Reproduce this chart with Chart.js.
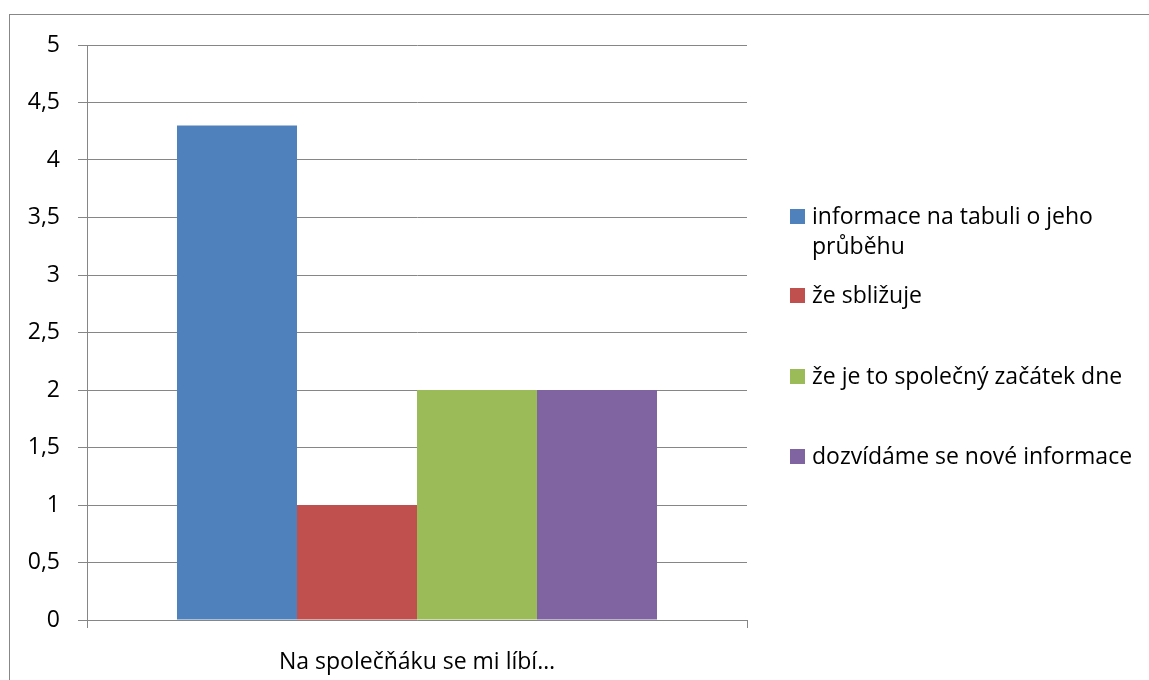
<!DOCTYPE html>
<html>
<head>
<meta charset="utf-8">
<script src="https://cdn.jsdelivr.net/npm/chart.js@4"></script>
<style>
  html, body { margin: 0; padding: 0; background: #fff; }
  #wrap { width: 1149px; height: 680px; position: relative; }
</style>
</head>
<body>
<div id="wrap"><canvas id="chart" width="1149" height="680"></canvas></div>
<script>
const categories = ['Na společňáku se mi líbí…'];
const seriesNames = [
  'informace na tabuli o jeho průběhu',
  'že sbližuje',
  'že je to společný začátek dne',
  'dozvídáme se nové informace'
];
const seriesValues = [[4.3], [1], [2], [2]];
const seriesColors = ['#4F81BD', '#C0504D', '#9BBB59', '#8064A2'];
const yTicks = [0, 0.5, 1, 1.5, 2, 2.5, 3, 3.5, 4, 4.5, 5];

const FONT = '"Open Sans", Lato, sans-serif';
const FSIZE = 23;
const GRID = '#868686';

// Legend layout (first-line centre of each entry)
const legendX = 790;
const legendY = [216, 295, 376, 456];

const frameAndLegend = {
  id: 'frameAndLegend',
  beforeDraw(chart) {
    const ctx = chart.ctx;
    ctx.save();
    ctx.fillStyle = '#fff';
    ctx.fillRect(0, 0, chart.width, chart.height);
    ctx.strokeStyle = '#878787';
    ctx.lineWidth = 1;
    ctx.strokeRect(9.5, 14.5, 1300, 800);
    ctx.restore();
  },
  afterDraw(chart) {
    const ctx = chart.ctx;
    ctx.save();
    ctx.font = FSIZE + 'px ' + FONT;
    ctx.textBaseline = 'middle';
    chart.data.datasets.forEach((ds, i) => {
      const y = legendY[i];
      ctx.fillStyle = ds.backgroundColor;
      ctx.fillRect(legendX, y - 7, 15, 15);
      // wrap text
      const words = ds.label.split(' ');
      const lines = [];
      let line = '';
      words.forEach(w => {
        const test = line ? line + ' ' + w : w;
        if (ctx.measureText(test).width > 335 && line) {
          lines.push(line);
          line = w;
        } else {
          line = test;
        }
      });
      lines.push(line);
      ctx.fillStyle = '#000';
      lines.forEach((l, j) => ctx.fillText(l, legendX + 22, y + 1 + j * 30));
    });
    ctx.restore();
  }
};

new Chart(document.getElementById('chart').getContext('2d'), {
  type: 'bar',
  data: {
    labels: categories,
    datasets: seriesNames.map((name, i) => ({
      label: name,
      data: seriesValues[i],
      backgroundColor: seriesColors[i],
      borderWidth: 0
    }))
  },
  options: {
    responsive: false,
    animation: false,
    events: [],
    categoryPercentage: 0.7273,
    barPercentage: 1.0,
    layout: { padding: { left: 10, top: 45, right: 402, bottom: 0 } },
    scales: {
      x: {
        afterFit: scale => { scale.height = 60; },
        grid: {
          drawOnChartArea: false,
          drawTicks: true,
          tickLength: 8,
          color: GRID,
          offset: true
        },
        border: { display: true, color: GRID, width: 1 },
        ticks: {
          color: '#000',
          padding: 21,
          font: { family: FONT, size: FSIZE }
        }
      },
      y: {
        min: 0,
        max: 5,
        afterFit: scale => { scale.width = 77; },
        afterBuildTicks: scale => { scale.ticks = yTicks.map(v => ({ value: v })); },
        grid: {
          color: GRID,
          tickLength: 9,
          drawTicks: true
        },
        border: { display: true, color: GRID, width: 1 },
        ticks: {
          color: '#000',
          padding: 18,
          font: { family: FONT, size: FSIZE },
          callback: v => String(v).replace('.', ',')
        }
      }
    },
    plugins: {
      legend: { display: false },
      tooltip: { enabled: false }
    }
  },
  plugins: [frameAndLegend]
});
</script>
</body>
</html>
